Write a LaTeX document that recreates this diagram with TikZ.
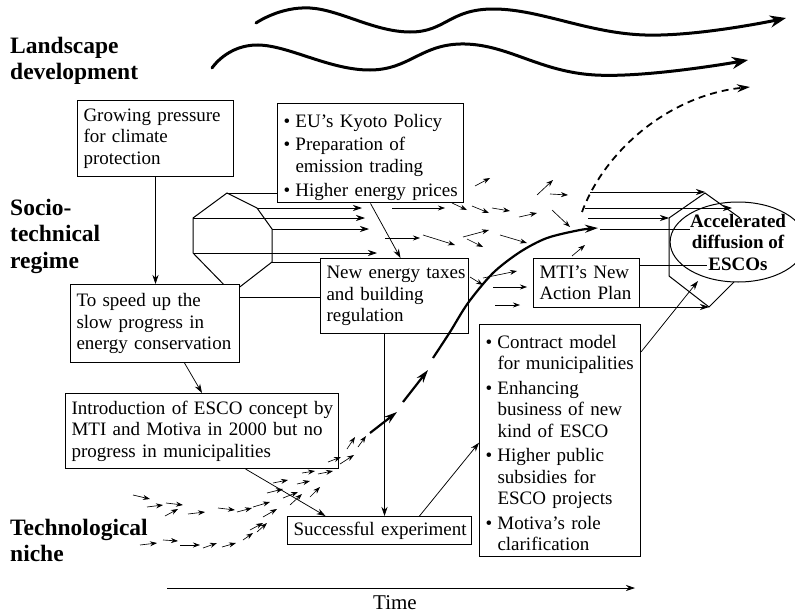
\documentclass[tikz,border=0pt]{standalone}
\usepackage{fontspec}
\setmainfont{Liberation Serif}
\usetikzlibrary{arrows.meta,shapes.geometric,calc}

% bullet item: the lines of one item hang under its first word
\newcommand\bul[1]{\par\noindent\hbox to 12pt{\textbullet\hfil}\begin{tabular}[t]{@{}l@{}}#1\end{tabular}}

\begin{document}
\begin{tikzpicture}[x=1pt,y=-1pt,
  every node/.style={inner sep=0pt},
  txt/.style={font=\fontsize{19}{21.5}\selectfont},
  box/.style={txt,draw,line width=1pt,fill=white,anchor=north west,align=left,inner xsep=6pt,inner ysep=0pt},
  lab/.style={font=\fontsize{23.5}{26.5}\selectfont\bfseries,anchor=base west,align=left,text width=170pt},
  link/.style={line width=0.75pt},
  con/.style={link,-{Stealth[length=9pt,width=6pt]}},
  flow/.style={line width=0.65pt,-{Stealth[length=7pt,width=5pt]}},
  mainflow/.style={line width=2.2pt,-{Stealth[length=13pt,width=8pt]}},
  wave/.style={line width=3pt,line cap=round,-{Stealth[length=16pt,width=12pt]}},
  outline/.style={line width=1pt,line join=miter},
]
\useasboundingbox (0,0) rectangle (795,613);

% level labels
\node[lab] (landscape) at (10,53) {Landscape\\development};
\node[lab] (regime) at (10,215) {Socio-\\technical\\regime};
\node[lab] (niche) at (10,535) {Technological\\niche};

% landscape waves
\draw[wave] plot[smooth,tension=0.7] coordinates {(256,23) (310,8) (410,32) (495,9) (645,35) (786,18)};
\draw[wave] plot[smooth,tension=0.7] coordinates {(212,68) (258,45) (370,70) (465,44) (595,75) (748,60)};

% regime octagon (left), lower part hidden by the box in front
\coordinate (oa) at (227,193);
\coordinate (ob) at (257,208);
\coordinate (oc) at (272,229);
\coordinate (od) at (272,262);
\coordinate (oe) at (232,293);
\coordinate (of) at (193,253);
\coordinate (og) at (193,218);
\draw[outline] (oa) -- (ob) -- (oc) -- (od) -- (oe) -- (of) -- (og) -- cycle;

% result ellipse and right octagon
\node[ellipse,draw,line width=1pt,minimum width=114pt,minimum height=80pt,align=center,
      font=\fontsize{19}{21.5}\selectfont\bfseries] (esco) at (738,242) {Accelerated\\diffusion of\\ESCOs};
\coordinate (pa) at (740,218);
\coordinate (pb) at (705,193);
\coordinate (pc) at (669,218);
\coordinate (pd) at (669,276);
\coordinate (pe) at (709,307);
\coordinate (pf) at (734,282);
\draw[outline] (pa) -- (pb) -- (pc) -- (pd) -- (pe) -- (pf);

% boxes
\node[box,text width=144pt,minimum height=76pt] (grow) at (77,100)
  {\mbox{Growing pressure}\\\mbox{for climate}\\\mbox{protection}};
\node[box,text width=174pt,minimum height=98pt] (kyoto) at (277,103)
  {\setlength\parskip{2pt}\bul{EU's Kyoto Policy}\bul{Preparation of\\emission trading}\bul{Higher energy prices}};
\node[box,text width=157pt,minimum height=78pt] (speed) at (70,284)
  {\mbox{To speed up the}\\\mbox{slow progress in}\\\mbox{energy conservation}};
\node[box,text width=136pt,minimum height=75pt] (taxes) at (320,258)
  {\mbox{New energy taxes}\\\mbox{and building}\\\mbox{regulation}};
\node[box,text width=94pt,minimum height=49pt] (mti) at (533,258)
  {\mbox{MTI's New}\\\mbox{Action Plan}};
\node[box,text width=261pt,minimum height=75pt] (intro) at (65,393)
  {\mbox{Introduction of ESCO concept by}\\\mbox{MTI and Motiva in 2000 but no}\\\mbox{progress in municipalities}};
\node[box,text width=172pt,minimum height=28pt] (success) at (287,516)
  {\mbox{Successful experiment}};
\node[box,text width=149pt,minimum height=228pt] (contract) at (479,324)
  {\setlength\parskip{2pt}\bul{Contract model\\for municipalities}\bul{Enhancing\\business of new\\kind of ESCO}\bul{Higher public\\subsidies for\\ESCO projects}\bul{Motiva's role\\clarification}};

% links between boxes
\draw[link] (oa) -- (oa -| kyoto.west);
\draw[link] (od) -- (od -| taxes.west);
\draw[link] ([yshift=-13pt]speed.north east) -- ([yshift=-13pt]speed.north east -| taxes.west);
\draw[con] (grow.south) -- (grow.south |- speed.north);
\draw[con] ([xshift=29.5pt]speed.south) -- (intro.north);
\draw[con] (kyoto.south) -- ([xshift=6pt]taxes.north);
\draw[con] ([xshift=43.5pt]intro.south) -- ([xshift=-54pt]success.north);
\draw[con] ([xshift=-10pt]taxes.south) -- ([xshift=-10pt]taxes.south |- success.north);
\draw[con] ([xshift=40pt]success.north) -- ([yshift=-2pt]contract.west);
\coordinate (escoSW) at (698,281);
\draw[con] ([yshift=-28pt]contract.north east) -- (escoSW);
\coordinate (escoW1) at (707,265);
\draw[link] ([yshift=-7pt]mti.north east) -- (escoW1);

% regime flows leaving the left octagon
\coordinate (la) at (362,208);
\coordinate (lb) at (365,218);
\coordinate (lc) at (369,229);
\coordinate (ld) at (377,253);
\draw[con] (ob) -- (la);
\draw[con] (og) -- (lb);
\draw[con] (oc) -- (lc);
\draw[con] (of) -- (ld);

% regime flows entering the right octagon
\coordinate (ra) at (590,192);
\coordinate (rb) at (585,208);
\coordinate (rc) at (588,218);
\coordinate (rd) at (600,229);
\coordinate (rdd) at (690,229);
\coordinate (rf) at (590,307);
\draw[con] (ra) -- (ra -| pb);
\draw[con] (rb) -- (732,208);
\draw[con] (rc) -- (pc);
\draw[link] (rd) -- (rdd);
\draw[con] (rf) -- (pe);

% scattered regime arrows
\foreach \a/\b/\c/\d in {
  475/186/490/178, 537/195/553/180, 550/194/568/195, 392/208/445/208,
  452/203/467/210, 472/206/489/213, 492/208/510/211, 519/217/537/213,
  552/210/570/227, 385/238/420/238, 423/235/455/245, 463/237/489/230,
  467/239/483/247, 500/235/527/243, 572/256/585/245, 470/277/483/285,
  483/278/517/271, 493/287/527/287, 495/305/520/305}
  \draw[flow] (\a,\b) -- (\c,\d);

% niche arrows
\foreach \a/\b/\c/\d in {
  133/495/150/499, 147/507/163/505, 166/503/183/505, 165/516/178/509,
  188/514/205/512, 218/508/235/510, 237/512/252/508, 253/507/270/502,
  263/517/277/509, 267/493/283/489, 273/483/288/480, 283/498/298/492,
  290/505/302/494, 297/484/310/481, 302/473/315/471, 310/497/320/487,
  318/474/333/471, 328/462/341/457, 340/464/354/455, 347/449/355/437,
  358/447/366/436,
  140/545/157/543, 163/540/178/541, 180/545/200/545, 203/548/217/543,
  222/547/236/543, 243/540/253/533, 250/530/263/523, 257/532/267/523}
  \draw[flow] (\a,\b) -- (\c,\d);

% main trajectory from niche to regime
\draw[mainflow] (370,433) -- (397,412);
\draw[mainflow] (403,402) -- (428,370);
\draw[mainflow] plot[smooth] coordinates {(433,358) (450,332) (468,303) (493,273) (520,252) (547,238) (580,230) (598,228)};
\draw[line width=1.8pt,dash pattern=on 7pt off 5pt,-{Stealth[length=13pt,width=8pt]}]
  (582,212) .. controls (605,150) and (670,95) .. (750,87);

% time axis
\coordinate (t0) at (167,588);
\coordinate (t1) at (635,588);
\draw[con] (t0) -- (t1);
\node[font=\fontsize{21}{24}\selectfont] (time) at (395,603) {Time};
\end{tikzpicture}
\end{document}
